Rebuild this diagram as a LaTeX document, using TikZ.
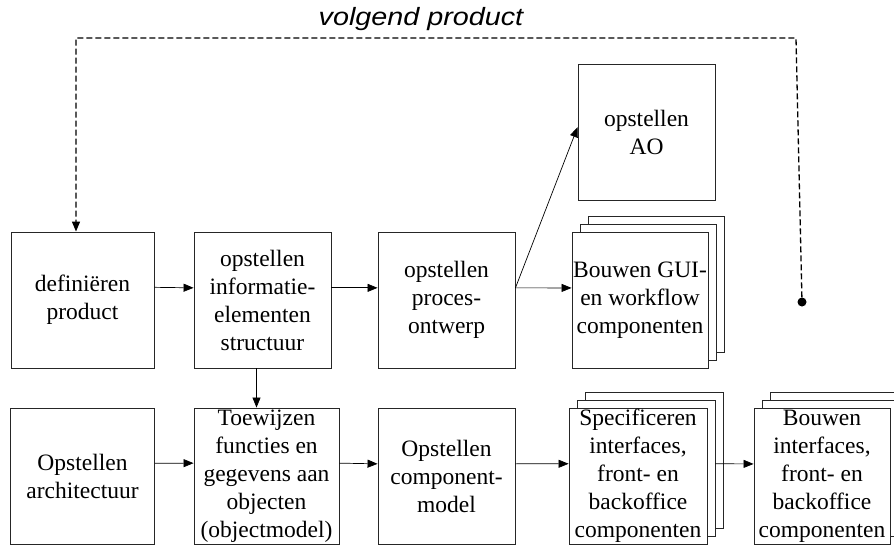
\documentclass[tikz,border=0pt]{standalone}
\usepackage{fontspec}
\setmainfont{Liberation Serif}
\setsansfont{Liberation Sans}
\usetikzlibrary{arrows.meta}

\begin{document}
\begin{tikzpicture}[x=1pt, y=-1pt,
  box/.style={draw=black!85, line width=0.9pt, fill=white, rectangle, inner sep=0pt, minimum height=136pt, align=center, font=\fontsize{23.5}{28}\selectfont},
  flow/.style={draw=black, line width=0.7pt, -{Triangle[length=10pt,width=8pt]}},
  back/.style={draw=black!85, line width=0.9pt, fill=white, rectangle, inner sep=0pt, minimum height=136pt}]
\useasboundingbox (0,0) rectangle (894,547);
% bovenste rij
\node[box, minimum width=143pt] (R1B1) at (82.5,300) {defini\"eren\\product};
\node[box, minimum width=137pt] (R1B2) at (262.5,300) {opstellen\\informatie-\\elementen\\structuur};
\node[box, minimum width=137pt] (R1B3) at (446.5,300) {opstellen\\proces-\\ontwerp};
\node[back, minimum width=136pt] (R1B4c) at (656,284) {};
\node[back, minimum width=136pt] (R1B4b) at (648,292) {};
\node[box, minimum width=136pt] (R1B4) at (640,300) {Bouwen GUI-\\en workflow\\componenten};
\node[box, minimum width=137pt] (R1AO) at (646.5,132) {opstellen\\AO};
% onderste rij
\node[box, minimum width=144pt] (R2B1) at (82.5,476) {Opstellen\\architectuur};
\node[box, minimum width=145pt] (R2B2) at (266.5,476) {Toewijzen\\functies en\\gegevens aan\\objecten\\(objectmodel)};
\node[box, minimum width=137pt] (R2B3) at (446.5,476) {Opstellen\\component-\\model};
\node[back, minimum width=138pt] (R2B4c) at (654,460) {};
\node[back, minimum width=138pt] (R2B4b) at (646,468) {};
\node[box, minimum width=138pt] (R2B4) at (638,476) {Specificeren\\interfaces,\\front- en\\backoffice\\componenten};
\node[back, minimum width=136pt] (R2B5c) at (838,460) {};
\node[back, minimum width=136pt] (R2B5b) at (830,468) {};
\node[box, minimum width=136pt] (R2B5) at (822,476) {Bouwen\\interfaces,\\front- en\\backoffice\\componenten};
% pijlen
\draw[flow] (R1B1.10) -- (R1B2.170);
\draw[flow] (R1B2.10) -- (R1B3.170);
\draw[flow] (R1B3.10) -- (R1B4.170);
\draw[flow] (R1B3.10) -- (R1AO.176);
\draw[flow] (R1B2.265) -- (R1B2.265 |- R2B2.north);
\draw[flow] (R2B1.10) -- (R2B2.170);
\draw[flow] (R2B2.10) -- (R2B3.170);
\draw[flow] (R2B3.10) -- (R2B4.170);
\draw[flow] (R2B4b.east |- R2B4.10) -- (R2B5.170);
% terugkoppeling
\node[fill=black, circle, inner sep=0pt, minimum size=9pt] (DOT) at (802,302) {};
\coordinate (TR) at (796,38);
\coordinate (TL) at (76,38);
\draw[line width=1.3pt, dash pattern=on 6pt off 3pt, -{Triangle[length=10pt,width=8pt]}] (DOT) -- (TR) -- (TL) -- (TL |- R1B1.north);
\node[font=\sffamily\itshape\fontsize{25}{30}\selectfont, xscale=1.15] (LBL) at (421,19) {volgend product};
\end{tikzpicture}
\end{document}
